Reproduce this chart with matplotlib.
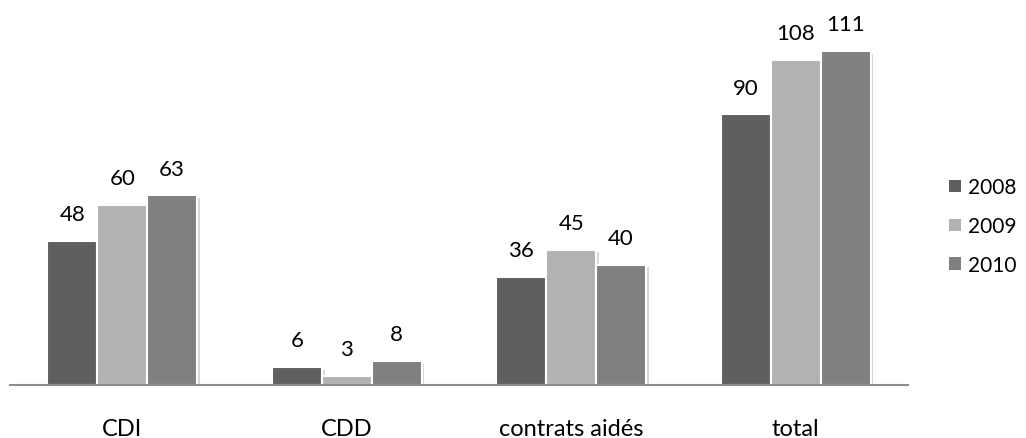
import numpy as np
import matplotlib.pyplot as plt
import matplotlib.patheffects as pe

# effectifs par type de contrat
categories = ['CDI', 'CDD', 'contrats aidés', 'total']
years = ['2008', '2009', '2010']
v2008 = [48, 6, 36, 90]
v2009 = [60, 3, 45, 108]
v2010 = [63, 8, 40, 111]
colors = ['#5f5f5f', '#b2b2b2', '#808080']

plt.rcParams['font.family'] = ['Lato', 'DejaVu Sans']

fig = plt.figure(figsize=(10.26, 4.39), dpi=100)
ax = fig.add_axes([10/1026, 53/439, 898/1026, 361/439])

x = np.arange(len(categories))
w = 0.222
shadow = [pe.SimplePatchShadow(offset=(2, -2), shadow_rgbFace='#bbbbbb', alpha=0.6), pe.Normal()]
for i, (vals, c, lab) in enumerate(zip([v2008, v2009, v2010], colors, years)):
    bars = ax.bar(x + (i - 1) * w, vals, w, color=c, edgecolor='white',
                  linewidth=1.5, label=lab, zorder=2)
    for b in bars:
        b.set_path_effects(shadow)
    for xi, v in zip(x + (i - 1) * w, vals):
        ax.annotate(str(v), (xi, v), xytext=(0, 12), textcoords='offset points',
                    ha='center', va='bottom', fontsize=16)

ax.set_xlim(-0.5, 3.5)
ax.set_ylim(0, 120)
for s in ['top', 'right', 'left']:
    ax.spines[s].set_visible(False)
ax.spines['bottom'].set_color('#8c8c8c')
ax.spines['bottom'].set_linewidth(1.5)
ax.set_yticks([])
ax.set_xticks(x)
ax.set_xticklabels(categories, fontsize=17)
ax.tick_params(axis='x', length=0, pad=24)

leg = ax.legend(loc='center left', bbox_to_anchor=(1.046, 0.44), frameon=False,
                borderaxespad=0, borderpad=0,
                fontsize=15, handlelength=0.55, handleheight=0.55, handletextpad=0.35,
                labelspacing=0.9)
for h in leg.legend_handles:
    h.set_path_effects([])
    h.set_edgecolor('none')

fig.savefig('out.png', dpi=100)
